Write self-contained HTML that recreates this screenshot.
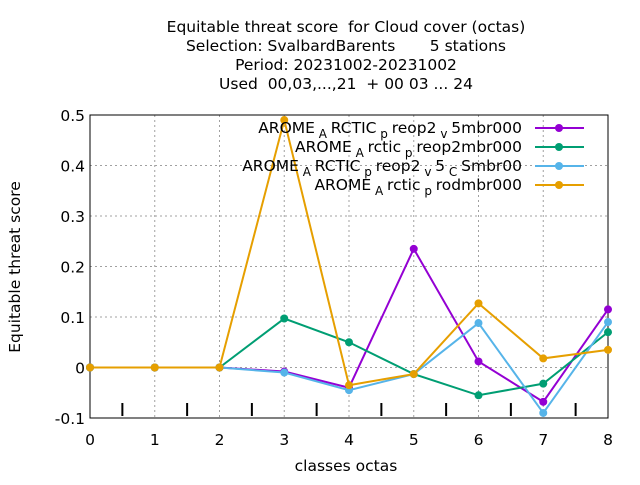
<!DOCTYPE html>
<html><head><meta charset="utf-8"><style>
body{margin:0;background:#fff}
svg text{font-family:"DejaVu Sans","Liberation Sans",sans-serif;fill:#000;white-space:pre}
</style></head><body>
<svg id="chart" width="640" height="480" xmlns="http://www.w3.org/2000/svg">
<g font-size="15.5" text-anchor="middle">
<text x="346" y="32">Equitable threat score  for Cloud cover (octas)</text>
<text x="346" y="51">Selection: SvalbardBarents       5 stations</text>
<text x="346" y="70">Period: 20231002-20231002</text>
<text x="346" y="89">Used  00,03,...,21  + 00 03 ... 24</text>
</g>
<g id="grid"></g>
<g id="axes"></g>
<g id="series"></g>
<text x="346" y="471" font-size="15.5" text-anchor="middle">classes octas</text>
<text transform="translate(20,267) rotate(-90)" font-size="15.5" text-anchor="middle">Equitable threat score</text>
<g id="legend" font-size="15.5"></g>
</svg>
<script>
const categories=[0,1,2,3,4,5,6,7,8];
const xTicks=[0,1,2,3,4,5,6,7,8];
const yTicks=[-0.1,0,0.1,0.2,0.3,0.4,0.5];
const yTickLabels=["-0.1","0","0.1","0.2","0.3","0.4","0.5"];
const seriesNames=["AROME_ARCTIC_preop2_v5mbr000","AROME_Arctic_preop2mbr000","AROME_ARCTIC_preop2_v5_CSmbr00","AROME_Arctic_prodmbr000"];
const purpleVals=[0,0,0,-0.008,-0.04,0.235,0.012,-0.068,0.115];
const greenVals=[0,0,0,0.097,0.05,-0.013,-0.055,-0.032,0.07];
const blueVals=[0,0,0,-0.01,-0.045,-0.013,0.088,-0.09,0.09];
const orangeVals=[0,0,0,0.49,-0.035,-0.013,0.127,0.018,0.035];
const colors=["#9400d3","#009e73","#56b4e9","#e69f00"];
const NS="http://www.w3.org/2000/svg";
const L=90,R=608,T=115,B=418,ymin=-0.1,ymax=0.5;
const xs=v=>L+(v-0)/8*(R-L);
const ys=v=>B-(v-ymin)/(ymax-ymin)*(B-T);
function mk(tag,attrs,parent){const e=document.createElementNS(NS,tag);for(const k in attrs)e.setAttribute(k,attrs[k]);parent.appendChild(e);return e;}
const grid=document.getElementById('grid'),axes=document.getElementById('axes'),ser=document.getElementById('series'),leg=document.getElementById('legend');
xTicks.forEach(t=>{
 const g=mk('line',{x1:xs(t),x2:xs(t),y1:T,y2:B,stroke:'#a0a0a0','stroke-dasharray':'2,3','stroke-width':1},grid);
 
 
 const tx=mk('text',{x:xs(t),y:B+27,'font-size':15.5,'text-anchor':'middle'},axes);tx.textContent=t;
 
 
});
yTicks.forEach((t,i)=>{
 const g=mk('line',{x1:L,x2:R,y1:ys(t),y2:ys(t),stroke:'#a0a0a0','stroke-dasharray':'2,3','stroke-width':1},grid);
 
 
 const tx=mk('text',{x:L-5,y:ys(t)+6,'font-size':15.5,'text-anchor':'end'},axes);tx.textContent=yTickLabels[i];
 
 
});
for(let k=0;k<8;k++){const m=mk('line',{x1:xs(k+0.5),x2:xs(k+0.5),y1:B-15,y2:B-2,stroke:'#000','stroke-width':2},axes);
 
 }
const fr=mk('rect',{x:L,y:T,width:R-L,height:B-T,fill:'none',stroke:'#000','stroke-width':1},axes);


const all=[purpleVals,greenVals,blueVals,orangeVals];
all.forEach((vals,si)=>{
 const pts=categories.map((c,i)=>xs(c)+','+ys(vals[i])).join(' ');
 const pl=mk('polyline',{points:pts,fill:'none',stroke:colors[si],'stroke-width':2},ser);
 
 
 categories.forEach((c,i)=>{const p=mk('circle',{cx:xs(c),cy:ys(vals[i]),r:4,fill:colors[si]},ser);
  
  });
});
const legLabels=[
 'AROME<tspan dy="5" font-size="12"> A </tspan><tspan dy="-5">RCTIC</tspan><tspan dy="5" font-size="12"> p </tspan><tspan dy="-5">reop2</tspan><tspan dy="5" font-size="12"> v </tspan><tspan dy="-5">5mbr000</tspan>',
 'AROME<tspan dy="5" font-size="12"> A </tspan><tspan dy="-5">rctic</tspan><tspan dy="5" font-size="12"> p </tspan><tspan dy="-5">reop2mbr000</tspan>',
 'AROME<tspan dy="5" font-size="12"> A </tspan><tspan dy="-5">RCTIC</tspan><tspan dy="5" font-size="12"> p </tspan><tspan dy="-5">reop2</tspan><tspan dy="5" font-size="12"> v </tspan><tspan dy="-5">5</tspan><tspan dy="5" font-size="12"> C </tspan><tspan dy="-5">Smbr00</tspan>'
 ,'AROME<tspan dy="5" font-size="12"> A </tspan><tspan dy="-5">rctic</tspan><tspan dy="5" font-size="12"> p </tspan><tspan dy="-5">rodmbr000</tspan>'];
seriesNames.forEach((n,i)=>{
 const y=128+i*19;
 const t=mk('text',{x:522,y:y+5,'text-anchor':'end'},leg);t.innerHTML=legLabels[i];
 
 
 const l=mk('line',{x1:535,x2:584,y1:y,y2:y,stroke:colors[i],'stroke-width':2},leg);
 
 
 const c=mk('circle',{cx:559,cy:y,r:4,fill:colors[i]},leg);
 
 
});
</script>
</body></html>
